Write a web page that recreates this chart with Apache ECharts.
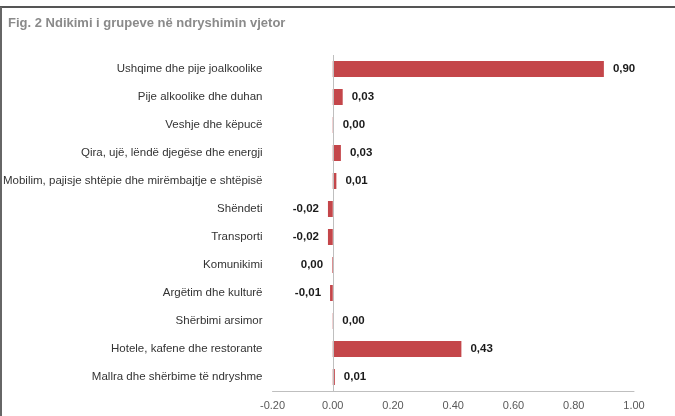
<!DOCTYPE html>
<html>
<head>
<meta charset="utf-8">
<script src="https://cdn.jsdelivr.net/npm/echarts@6/dist/echarts.min.js"></script>
<style>
  html, body { margin: 0; padding: 0; background: #fff; }
  #chart { width: 675px; height: 416px; }
</style>
</head>
<body>
<div id="chart"></div>
<script>
// categories, top to bottom
const categories = [
  'Ushqime dhe pije joalkoolike',
  'Pije alkoolike dhe duhan',
  'Veshje dhe këpucë',
  'Qira, ujë, lëndë djegëse dhe energji',
  'Mobilim, pajisje shtëpie dhe mirëmbajtje e shtëpisë',
  'Shëndeti',
  'Transporti',
  'Komunikimi',
  'Argëtim dhe kulturë',
  'Shërbimi arsimor',
  'Hotele, kafene dhe restorante',
  'Mallra dhe shërbime të ndryshme'
]
// contribution to annual change
const values = [0.90, 0.033, 0.003, 0.027, 0.012, -0.016, -0.016, -0.002, -0.009, 0.002, 0.427, 0.007]
const xTicks = [-0.2, 0, 0.2, 0.4, 0.6, 0.8, 1.0]

const fmt = (v) => {
  let s = v.toFixed(2)
  if (s === '-0.00') s = '0.00'
  return s.replace('.', ',')
}

const chart = echarts.init(document.getElementById('chart'), null, { renderer: 'canvas' })

const option = {
  animation: false,
  backgroundColor: '#fff',
  title: {
    text: 'Fig. 2 Ndikimi i grupeve në ndryshimin vjetor',
    left: 3,
    top: 12,
    textStyle: { fontFamily: 'Arial, Liberation Sans', fontSize: 13, fontWeight: 'bold', color: '#8a8a8a' }
  },
  graphic: [
    { type: 'line', shape: { x1: 0, y1: 7, x2: 675, y2: 7 }, style: { stroke: '#555', lineWidth: 2 } },
    { type: 'line', shape: { x1: 1, y1: 7, x2: 1, y2: 416 }, style: { stroke: '#666', lineWidth: 2 } }
  ],
  grid: { left: 272, right: 41, top: 55, bottom: 25 },
  xAxis: {
    type: 'value',
    min: xTicks[0],
    max: xTicks[xTicks.length - 1],
    interval: 0.2,
    axisLine: { show: true, onZero: false, lineStyle: { color: '#bfbfbf', width: 1 } },
    axisTick: { show: false },
    splitLine: { show: false },
    axisLabel: {
      color: '#595959',
      fontFamily: 'Arial, Liberation Sans',
      fontSize: 11,
      margin: 9,
      formatter: (v) => v.toFixed(2)
    }
  },
  yAxis: {
    type: 'category',
    inverse: true,
    data: categories,
    axisLine: { show: false },
    axisTick: { show: false },
    axisLabel: {
      color: '#333',
      fontFamily: 'Arial, Liberation Sans',
      fontSize: 11.5,
      margin: 10
    }
  },
  series: [{
    type: 'bar',
    barWidth: 16,
    itemStyle: { color: '#c4464a' },
    label: {
      show: true,
      position: 'right',
      distance: 9,
      color: '#1a1a1a',
      fontFamily: 'Arial, Liberation Sans',
      fontSize: 11.5,
      fontWeight: 'bold',
      formatter: (p) => fmt(p.value)
    },
    // negative bars get their label on the left
    data: values.map((v) => ({
      value: v,
      label: { position: v < 0 ? 'left' : 'right' }
    })),
    markLine: {
      silent: true,
      symbol: 'none',
      label: { show: false },
      lineStyle: { color: '#bfbfbf', type: 'solid', width: 1 },
      data: [{ xAxis: 0 }]
    }
  }]
}

chart.setOption(option)
</script>
</body>
</html>
